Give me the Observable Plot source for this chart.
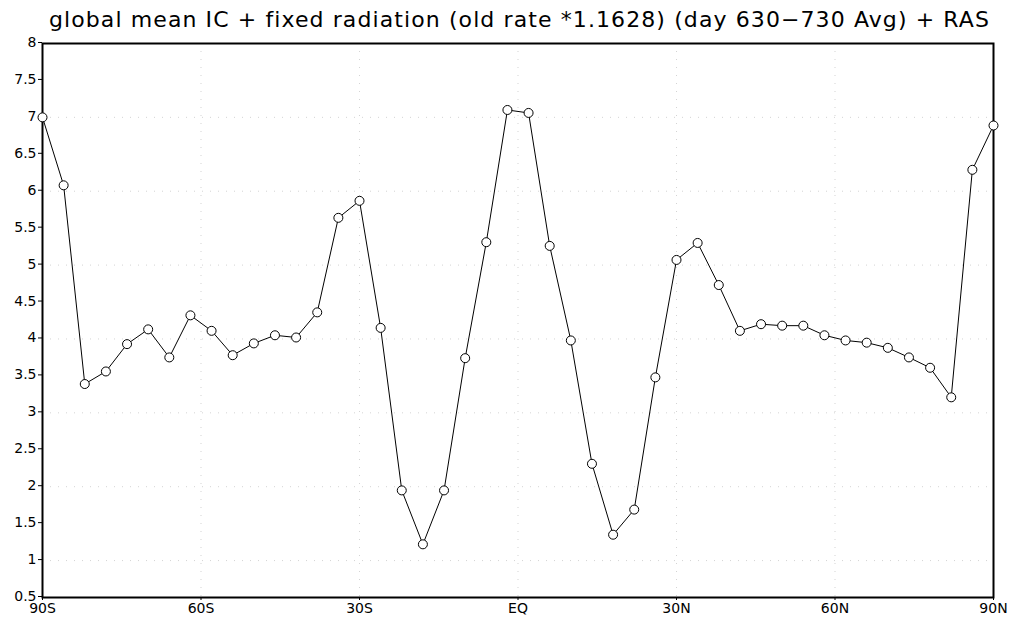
<!DOCTYPE html>
<html>
<head>
<meta charset="utf-8">
<script src="https://cdn.jsdelivr.net/npm/d3@7"></script>
<script src="https://cdn.jsdelivr.net/npm/@observablehq/plot@0.6"></script>
<style>
  html, body { margin: 0; padding: 0; background: white; }
  #title { width: 1019px; height: 33px; text-align: center; font-family: "DejaVu Sans", sans-serif; font-size: 22px; letter-spacing: 1.1px; line-height: 40px; color: black; white-space: nowrap; padding-left: 20px; box-sizing: border-box; }
</style>
</head>
<body>
<div id="title"></div>
<div id="chart"></div>
<script>
const titleText = "global mean IC + fixed radiation (old rate *1.1628) (day 630−730 Avg) + RAS";
const lat = [-90,-86,-82,-78,-74,-70,-66,-62,-58,-54,-50,-46,-42,-38,-34,-30,-26,-22,-18,-14,-10,-6,-2,2,6,10,14,18,22,26,30,34,38,42,46,50,54,58,62,66,70,74,78,82,86,90];
const values = [7.00,6.08,3.39,3.56,3.93,4.13,3.75,4.32,4.11,3.78,3.94,4.05,4.02,4.36,5.64,5.87,4.15,1.95,1.22,1.95,3.74,5.31,7.10,7.06,5.26,3.98,2.31,1.35,1.69,3.48,5.07,5.30,4.73,4.11,4.20,4.18,4.18,4.05,3.98,3.95,3.88,3.75,3.61,3.21,6.29,6.89];
const xTicks = [-90,-60,-30,0,30,60,90];
const xTickLabels = ["90S","60S","30S","EQ","30N","60N","90N"];
const yTicks = [0.5,1,1.5,2,2.5,3,3.5,4,4.5,5,5.5,6,6.5,7,7.5,8];
const yGrid = [1,2,3,4,5,6,7];

document.getElementById("title").textContent = titleText;
const data = lat.map((l, i) => ({lat: l, v: values[i]}));

const chart = Plot.plot({
  width: 1019,
  height: 588,
  marginTop: 10,
  marginLeft: 42,
  marginRight: 26,
  marginBottom: 24,
  style: {fontFamily: "DejaVu Sans, sans-serif", fontSize: "14px", background: "white", color: "black"},
  x: {domain: [-90, 90]},
  y: {domain: [0.5, 8]},
  marks: [
    Plot.gridY(yGrid, {stroke: "#aaa", strokeOpacity: 0.5, strokeDasharray: "1,7"}),
    Plot.gridX(xTicks.slice(1, -1), {stroke: "#aaa", strokeOpacity: 0.5, strokeDasharray: "1,7"}),
    Plot.axisY({ticks: yTicks, tickSize: 4, tickPadding: 2, tickFormat: d => String(d), label: null, fontSize: 14, dy: -1}),
    Plot.axisX({ticks: xTicks, tickSize: 3, tickPadding: 3, tickFormat: d => xTickLabels[xTicks.indexOf(d)], label: null, fontSize: 14}),
    Plot.frame({stroke: "black", strokeWidth: 2}),
    Plot.line(data, {x: "lat", y: "v", stroke: "black", strokeWidth: 1}),
    Plot.dot(data, {x: "lat", y: "v", r: 4.5, fill: "white", stroke: "black", strokeWidth: 1})
  ]
});
document.getElementById("chart").appendChild(chart);
</script>
</body>
</html>
